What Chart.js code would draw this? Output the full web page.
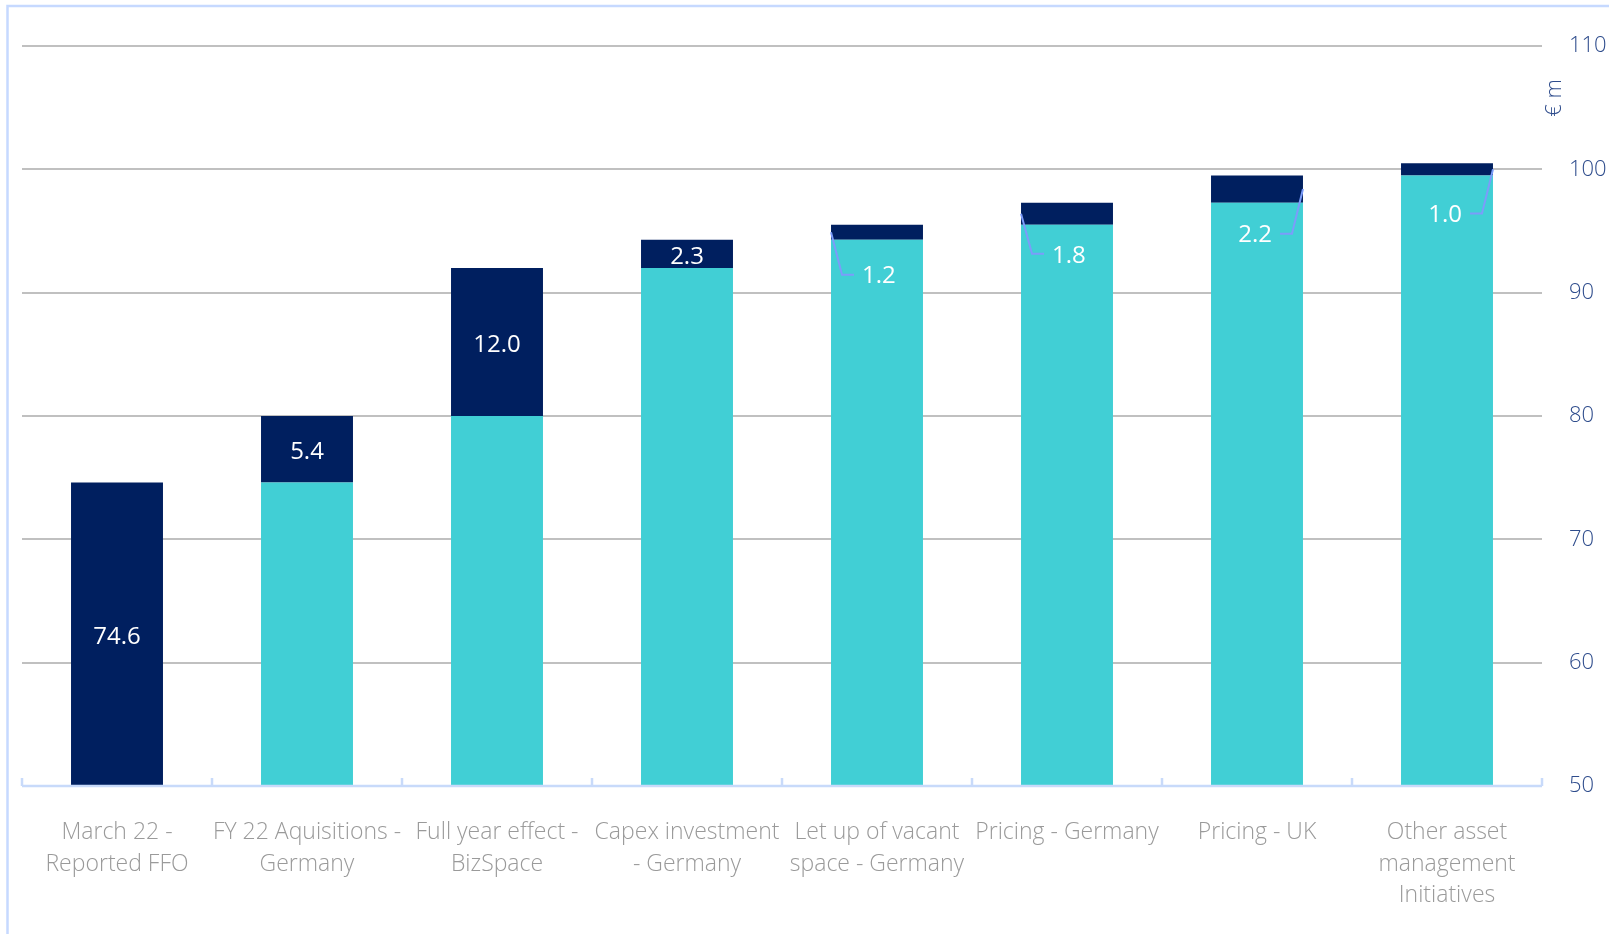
<!DOCTYPE html>
<html>
<head>
<meta charset="utf-8">
<script src="https://cdn.jsdelivr.net/npm/chart.js@4/dist/chart.umd.min.js"></script>
<style>
  html, body { margin: 0; padding: 0; background: #ffffff; }
  #wrap { position: relative; width: 1609px; height: 934px; }
</style>
</head>
<body>
<div id="wrap"><canvas id="ffo"></canvas></div>
<script>
// FFO bridge, € m
const categories = [
  ['March 22 -', 'Reported FFO'],
  ['FY 22 Aquisitions -', 'Germany'],
  ['Full year effect -', 'BizSpace'],
  ['Capex investment', '- Germany'],
  ['Let up of vacant', 'space - Germany'],
  ['Pricing - Germany'],
  ['Pricing - UK'],
  ['Other asset', 'management', 'Initiatives']
];
const changes = [74.6, 5.4, 12.0, 2.3, 1.2, 1.8, 2.2, 1.0];
const yTickValues = [50, 60, 70, 80, 90, 100, 110];
const unitLabel = '€ m';

// running total before each step (first bar starts from zero)
const bases = changes.map((v, i) =>
  i === 0 ? 0 : Math.round(changes.slice(0, i).reduce((a, b) => a + b, 0) * 10) / 10);

// styling
const NAVY = '#001F5F';
const CYAN = '#41CFD5';
const GRID = '#C0C0C0';
const AXIS = '#C8DAFA';
const FRAME = '#C6D9FF';
const LEADER = '#7C9CFA';
const TICK_BLUE = '#2E4C8C';
const FONT = "'Segoe UI', 'Open Sans', 'Noto Sans', sans-serif";
// callout placement for the thin steps: side of the bar and drop below the step
const calloutSide = [0, 0, 0, 0, -1, -1, 1, 1];
const calloutDrop = [0, 0, 0, 0, 37, 31, 33, 40];

const framePlugin = {
  id: 'frame',
  beforeDraw(chart) {
    const ctx = chart.ctx;
    ctx.save();
    ctx.fillStyle = '#ffffff';
    ctx.fillRect(0, 0, chart.width, chart.height);
    ctx.strokeStyle = FRAME;
    ctx.lineWidth = 2.5;
    ctx.beginPath();
    ctx.moveTo(7.5, chart.height);
    ctx.lineTo(7.5, 6);
    ctx.lineTo(chart.width, 6);
    ctx.stroke();
    ctx.restore();
  }
};

const axisPlugin = {
  id: 'baseAxis',
  afterDatasetsDraw(chart) {
    const { ctx, chartArea } = chart;
    const y0 = chart.scales.y.getPixelForValue(yTickValues[0]);
    ctx.save();
    ctx.strokeStyle = AXIS;
    ctx.lineWidth = 2.5;
    ctx.beginPath();
    ctx.moveTo(chartArea.left, y0);
    ctx.lineTo(chartArea.right, y0);
    const step = (chartArea.right - chartArea.left) / categories.length;
    for (let i = 0; i <= categories.length; i++) {
      const bx = chartArea.left + step * i;
      ctx.moveTo(bx, y0);
      ctx.lineTo(bx, y0 - 8);
    }
    ctx.stroke();

    // unit label beside the value axis
    ctx.fillStyle = TICK_BLUE;
    ctx.font = "300 22px " + FONT;
    ctx.textAlign = 'center';
    ctx.textBaseline = 'middle';
    ctx.translate(chartArea.right + 13, chart.scales.y.getPixelForValue(105.8));
    ctx.rotate(-Math.PI / 2);
    ctx.fillText(unitLabel, 0, 0);
    ctx.restore();
  }
};

const labelPlugin = {
  id: 'stepLabels',
  afterDatasetsDraw(chart) {
    const { ctx, chartArea } = chart;
    const meta = chart.getDatasetMeta(1);
    ctx.save();
    ctx.font = "400 24px " + FONT;
    ctx.fillStyle = '#ffffff';
    ctx.textBaseline = 'middle';
    meta.data.forEach((bar, i) => {
      const p = bar.getProps(['x', 'y', 'base', 'width'], true);
      const text = changes[i].toFixed(1);
      const bottom = Math.min(p.base, chartArea.bottom);
      const midY = (p.y + bottom) / 2;
      const side = calloutSide[i];
      if (side === 0) {
        ctx.textAlign = 'center';
        ctx.fillText(text, p.x, midY + 3);
      } else {
        const ly = bottom + calloutDrop[i];
        const edgeX = p.x + side * p.width / 2;
        ctx.strokeStyle = LEADER;
        ctx.lineWidth = 2;
        ctx.beginPath();
        ctx.moveTo(edgeX, midY);
        ctx.lineTo(edgeX - side * 11, ly - 2);
        ctx.lineTo(edgeX - side * 23, ly - 2);
        ctx.stroke();
        ctx.textAlign = side < 0 ? 'left' : 'right';
        ctx.fillText(text, edgeX - side * 31, ly);
      }
    });
    ctx.restore();
  }
};

new Chart(document.getElementById('ffo'), {
  type: 'bar',
  data: {
    labels: categories,
    datasets: [
      {
        label: 'Base',
        data: bases,
        backgroundColor: CYAN,
        borderWidth: 0,
        barPercentage: 0.484,
        categoryPercentage: 1
      },
      {
        label: 'Change',
        data: changes,
        backgroundColor: NAVY,
        borderWidth: 0,
        barPercentage: 0.484,
        categoryPercentage: 1
      }
    ]
  },
  options: {
    responsive: true,
    maintainAspectRatio: false,
    animation: false,
    layout: { padding: { left: 22, top: 46, right: 0, bottom: 0 } },
    plugins: {
      legend: { display: false },
      tooltip: { enabled: false }
    },
    scales: {
      x: {
        stacked: true,
        grid: { display: false },
        border: { display: false },
        ticks: {
          color: '#9A9A9A',
          font: { family: FONT, size: 23, weight: '300', lineHeight: 1.37 },
          padding: 23,
          maxRotation: 0,
          autoSkip: false
        },
        afterFit(scale) { scale.height = 148; }
      },
      y: {
        stacked: true,
        position: 'right',
        min: yTickValues[0],
        max: yTickValues[yTickValues.length - 1],
        afterBuildTicks(scale) { scale.ticks = yTickValues.map(v => ({ value: v })); },
        grid: {
          color: ctx => ctx.tick && ctx.tick.value === yTickValues[0] ? 'rgba(0,0,0,0)' : GRID,
          lineWidth: 2,
          drawTicks: false
        },
        border: { display: false },
        ticks: {
          color: TICK_BLUE,
          font: { family: FONT, size: 22, weight: '300' },
          padding: 27
        },
        afterFit(scale) { scale.width = 67; }
      }
    }
  },
  plugins: [framePlugin, axisPlugin, labelPlugin]
});
</script>
</body>
</html>
